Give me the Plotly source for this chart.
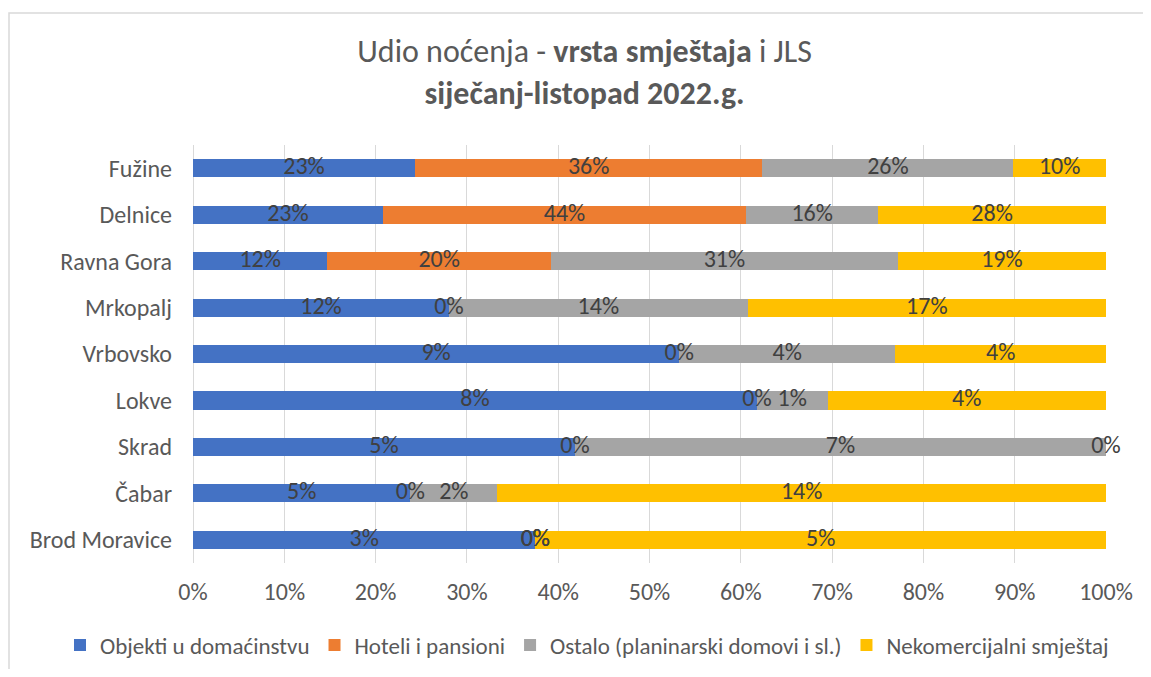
import plotly.graph_objects as go

# ---- data ----
categories = ["Fužine", "Delnice", "Ravna Gora", "Mrkopalj", "Vrbovsko",
              "Lokve", "Skrad", "Čabar", "Brod Moravice"]
series_names = ["Objekti u domaćinstvu", "Hoteli i pansioni",
                "Ostalo (planinarski domovi i sl.)", "Nekomercijalni smještaj"]
objekti = [23.0, 23.0, 12.0, 12.0, 9.0, 8.0, 5.0, 5.0, 3.0]
hoteli = [36.0, 44.0, 20.0, 0.0, 0.0, 0.0, 0.0, 0.0, 0.0]
ostalo = [26.0, 16.0, 31.0, 14.0, 4.0, 1.0, 6.95, 2.0, 0.0]
nekomercijalni = [9.6, 27.6, 18.6, 16.8, 3.9, 3.95, 0.0, 14.0, 5.0]
x_tick_vals = [0, 10, 20, 30, 40, 50, 60, 70, 80, 90, 100]
x_tick_text = ["0%", "10%", "20%", "30%", "40%", "50%", "60%", "70%", "80%", "90%", "100%"]

colors = ["#4472C4", "#ED7D31", "#A5A5A5", "#FFC000"]
FONT = "Carlito, Calibri, Lato, sans-serif"

all_series = [objekti, hoteli, ostalo, nekomercijalni]
totals = [sum(s[i] for s in all_series) for i in range(len(categories))]

# page body has an 8px default margin -> figure is 16px smaller than the window
W, H = 1135, 661
ML, MR, MT, MB = 185, 37, 137, 106
PW, PH = W - ML - MR, H - MT - MB

fig = go.Figure()
for name, vals, col in zip(series_names, all_series, colors):
    fig.add_trace(go.Bar(
        y=categories, x=vals, name=name, orientation="h",
        marker=dict(color=col, line=dict(width=0)),
        hoverinfo="name+x",
    ))

# data labels, centred in each normalised segment
cum = [0.0] * len(categories)
for vals in all_series:
    xs, txt = [], []
    for i, v in enumerate(vals):
        w = v / totals[i] * 100
        xs.append(cum[i] + w / 2)
        cum[i] += w
        txt.append(f"{round(v):d}%")
    fig.add_trace(go.Scatter(
        x=xs, y=categories, mode="text", text=txt,
        textposition="middle center",
        textfont=dict(family=FONT, size=24, color="#404040"),
        showlegend=False, hoverinfo="skip", cliponaxis=False,
    ))

fig.update_layout(
    barmode="stack", barnorm="percent", bargap=0.61,
    width=W, height=H,
    margin=dict(l=ML, r=MR, t=MT, b=MB, autoexpand=False),
    paper_bgcolor="white", plot_bgcolor="white",
    font=dict(family=FONT, size=24, color="#595959"),
    title=dict(
        text="Udio noćenja - <b>vrsta smještaja</b> i JLS<br><b>siječanj-listopad 2022.g.</b>",
        x=0.508, xanchor="center", xref="container",
        y=1 - 54 / H, yanchor="middle", yref="container",
        font=dict(family=FONT, size=32, color="#595959"),
    ),
    legend=dict(
        orientation="h", xref="paper", yref="paper",
        x=(52 - ML) / PW, xanchor="left",
        y=-(637 - (H - MB)) / PH, yanchor="middle",
        font=dict(family=FONT, size=23, color="#595959"),
        traceorder="normal", itemwidth=30,
    ),
    xaxis=dict(
        range=[0, 100], tickvals=x_tick_vals, ticktext=x_tick_text,
        showgrid=True, gridcolor="#D9D9D9", gridwidth=1,
        zeroline=True, zerolinecolor="#D9D9D9", zerolinewidth=1,
        showline=False, ticks="", ticklabelstandoff=12,
        tickfont=dict(family=FONT, size=24, color="#595959"),
    ),
    yaxis=dict(
        autorange="reversed", showgrid=False, showline=False, ticks="",
        ticklabelstandoff=20,
        tickfont=dict(family=FONT, size=24, color="#595959"),
    ),
    shapes=[dict(type="rect", xref="paper", yref="paper",
                 x0=(1 - ML) / PW, x1=1.2, y0=-0.5, y1=(H - MB - 5) / PH,
                 line=dict(color="#D9D9D9", width=1.5), layer="below")],
)

fig.write_html("out.html")
